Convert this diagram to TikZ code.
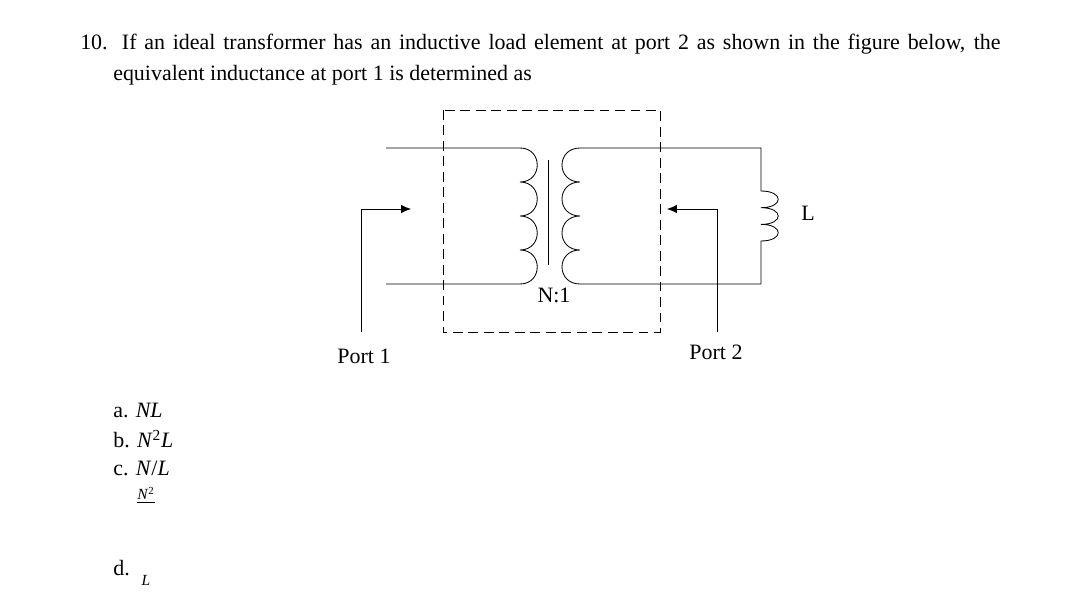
\documentclass[tikz,border=0pt]{standalone}
\usepackage{fontspec}
\setmainfont{Liberation Serif}
\usepackage{tikz}
\usetikzlibrary{arrows.meta}

\tikzset{
  wire/.style={draw, line width=0.6pt},
  lbl/.style={inner sep=0pt, font=\fontsize{15.6}{18}\selectfont},
  portarrow/.style={draw, line width=0.6pt, -{Latex[length=7pt,width=6pt]}}
}

\begin{document}
\begin{tikzpicture}[x=0.025cm, y=-0.025cm]
        \useasboundingbox (0,0) rectangle (1080,610);

        % Question
        \node (q1) [lbl, anchor=west] at (80,44) {\makebox[23cm][s]{10. If an ideal transformer has an inductive load element at port 2 as shown in the figure below, the}};
        \node (q2) [lbl, anchor=west] at (113,75) {equivalent inductance at port 1 is determined as};

        % Dashed box
        \draw[dashed, line width=0.6pt, dash pattern=on 7pt off 4pt] (443,110) rectangle (660,332);

        % Primary winding
        \coordinate (p1top) at (386,148);
        \coordinate (p1bot) at (386,284);
        \draw[wire] (p1top) -- (520,148)
            \foreach \y in {148,182,216,250} { .. controls (543,\y) and (543,\y+34) .. (520,\y+34) }
            -- (p1bot);

        % Core
        \draw[wire] (548,160) -- (548,265);

        % Secondary winding and load
        \coordinate (rtop) at (761,148);
        \coordinate (rbot) at (761,284);
        \draw[wire] (rbot) -- (580,284)
            \foreach \y in {284,250,216,182} { .. controls (556,\y) and (556,\y-34) .. (580,\y-34) }
            -- (rtop) -- (761,191)
            \foreach \y in {191,207.7,224.3} { .. controls (784,\y) and (784,\y+16.7) .. (761,\y+16.7) }
            -- (rbot);

        % Labels
        \node (ratio) [lbl] at (554,295) {N:1};
        \node (load) [lbl] at (808,213) {L};
        \node (port1) [lbl] at (364,356) {Port 1};
        \node (port2) [lbl] at (716,352) {Port 2};

        % Port arrows
        \coordinate (a1) at (411,209);
        \coordinate (a2) at (667,209);
        \draw[portarrow] (361,332) -- (361,209) -- (a1);
        \draw[portarrow] (717,332) -- (717,209) -- (a2);

        % Choices
        \node (ca) [lbl, anchor=west] at (113,410) {a. \textit{NL}};
        \node (cb) [lbl, anchor=west] at (113,439) {b. \textit{N}\textsuperscript{2}\textit{L}};
        \node (cc) [lbl, anchor=west] at (113,468) {c. \textit{N}/\textit{L}};
        \node (cd) [lbl, anchor=west] at (113,568) {d.};
        \node (num) [inner sep=0pt, font=\fontsize{11}{12}\selectfont] at (146,495) {\underline{\textit{N}\textsuperscript{2}}};
        \node (den) [inner sep=0pt, font=\fontsize{11}{12}\selectfont] at (146,580) {\textit{L}};

    \end{tikzpicture}
\end{document}
